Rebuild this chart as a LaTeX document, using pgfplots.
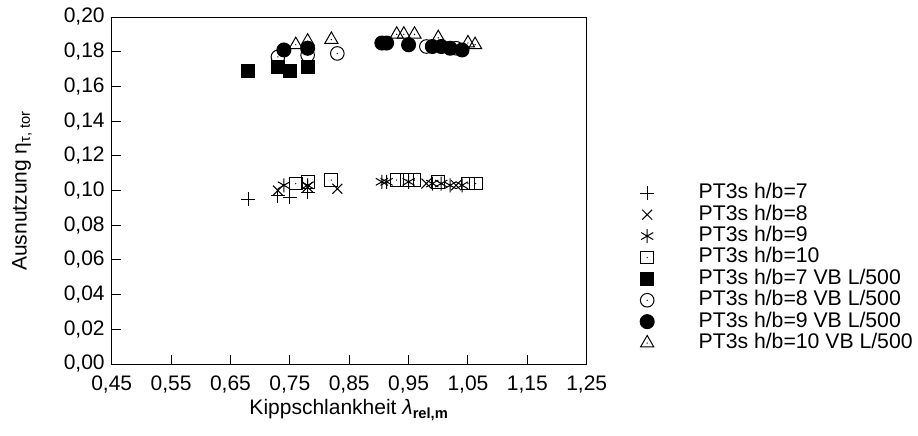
\documentclass[border=0pt]{standalone}
\usepackage{pgfplots}
\pgfplotsset{compat=1.18}
\usepackage{fontspec}
\setmainfont{Liberation Sans}
\pgfdeclareplotmark{sqdot}{%
  \pgfpathrectangle{\pgfpoint{-\pgfplotmarksize}{-\pgfplotmarksize}}{\pgfpoint{2\pgfplotmarksize}{2\pgfplotmarksize}}%
  \pgfusepathqstroke
  \pgfpathcircle{\pgfpointorigin}{0.35pt}\pgfusepathqfill}
\pgfdeclareplotmark{cdot}{%
  \pgfpathcircle{\pgfpointorigin}{\pgfplotmarksize}%
  \pgfusepathqstroke
  \pgfpathcircle{\pgfpointorigin}{0.35pt}\pgfusepathqfill}
\pgfdeclareplotmark{tdot}{%
  \pgfpathmoveto{\pgfqpoint{0pt}{\pgfplotmarksize}}%
  \pgfpathlineto{\pgfqpointpolar{-30}{\pgfplotmarksize}}%
  \pgfpathlineto{\pgfqpointpolar{210}{\pgfplotmarksize}}%
  \pgfpathclose
  \pgfusepathqstroke
  \pgfpathcircle{\pgfpointorigin}{0.35pt}\pgfusepathqfill}
\begin{document}
\begin{tikzpicture}
\path[use as bounding box] (0,0) rectangle (459pt,217.5pt);
\begin{axis}[
  at={(55.85pt,35.5pt)}, anchor=south west,
  scale only axis, width=237.5pt, height=173.5pt,
  xmin=0.45, xmax=1.25, ymin=0, ymax=0.20,
  xtick={0.45,0.55,...,1.26}, ytick={0,0.02,...,0.201},
  axis line style={line width=0.5pt},
  tick style={black, line width=0.5pt},
  xtick pos=bottom, ytick pos=left,
  tick align=inside,
  major tick length=4.5pt,
  font=\fontsize{10.5}{12.6}\selectfont,
  /pgf/number format/assume math mode=true,
  xticklabel style={yshift=-2.5pt, /pgf/number format/.cd, fixed, fixed zerofill, precision=2, use comma},
  yticklabel style={/pgf/number format/.cd, fixed, fixed zerofill, precision=2, use comma},
  scaled ticks=false,
  xlabel={Kippschlankheit {\itshape λ}\textsubscript{\bfseries rel,m}},
  ylabel={Ausnutzung η\textsubscript{τ, tor}},
  xlabel style={at={(axis description cs:0.5,-0.133)}, anchor=center},
  ylabel style={at={(axis description cs:-0.189,0.5)}, anchor=center},
  every axis plot/.append style={only marks, black, line width=0.5pt, mark options={solid}},
  legend style={draw=none, fill=none, at={(1.096,0.535)}, anchor=north west,
    font=\fontsize{10.6}{12.4}\selectfont, row sep=0.2pt,
    nodes={inner sep=0.5pt, text height=7.5pt, text depth=2pt}},
  legend cell align=left,
  legend image code/.code={\draw[#1] plot coordinates {(0pt,0pt)}; \path (-4pt,0pt) (25pt,0pt);},
]
% PT3s h/b=7
\addplot[mark=+, mark size=3.5pt] coordinates {(0.68,0.095) (0.73,0.097) (0.75,0.096) (0.78,0.099)};
\addlegendentry{PT3s h/b=7}
% PT3s h/b=8
\addplot[mark=x, mark size=3.5pt] coordinates {(0.73,0.100) (0.78,0.102) (0.83,0.101) (0.98,0.104) (1.03,0.103)};
\addlegendentry{PT3s h/b=8}
% PT3s h/b=9
\addplot[mark=asterisk, mark size=3.5pt] coordinates {(0.74,0.103) (0.78,0.103) (0.905,0.105) (0.913,0.105) (0.95,0.105) (0.99,0.104) (1.005,0.104) (1.02,0.103) (1.04,0.103)};
\addlegendentry{PT3s h/b=9}
% PT3s h/b=10
\addplot[mark=sqdot, mark size=3.2pt] coordinates {(0.76,0.104) (0.78,0.105) (0.82,0.106) (0.93,0.106) (0.947,0.106) (0.96,0.106) (1.00,0.105) (1.05,0.104) (1.063,0.104)};
\addlegendentry{PT3s h/b=10}
% VB L/500
\addplot[mark=square*, mark size=3.2pt] coordinates {(0.68,0.169) (0.73,0.171) (0.75,0.169) (0.78,0.171)};
\addlegendentry{PT3s h/b=7 VB L/500}
\addplot[mark=cdot, mark size=3.4pt] coordinates {(0.73,0.177) (0.78,0.178) (0.83,0.179) (0.98,0.183) (1.03,0.182)};
\addlegendentry{PT3s h/b=8 VB L/500}
\addplot[mark=*, mark size=3.5pt] coordinates {(0.74,0.181) (0.78,0.182) (0.905,0.185) (0.913,0.185) (0.95,0.184) (0.99,0.183) (1.005,0.183) (1.02,0.182) (1.04,0.181)};
\addlegendentry{PT3s h/b=9 VB L/500}
\addplot[mark=tdot, mark size=3.8pt] coordinates {(0.76,0.184) (0.78,0.186) (0.82,0.187) (0.93,0.190) (0.942,0.190) (0.96,0.190) (1.00,0.188) (1.05,0.185) (1.062,0.184)};
\addlegendentry{PT3s h/b=10 VB L/500}
\end{axis}
\end{tikzpicture}
\end{document}
